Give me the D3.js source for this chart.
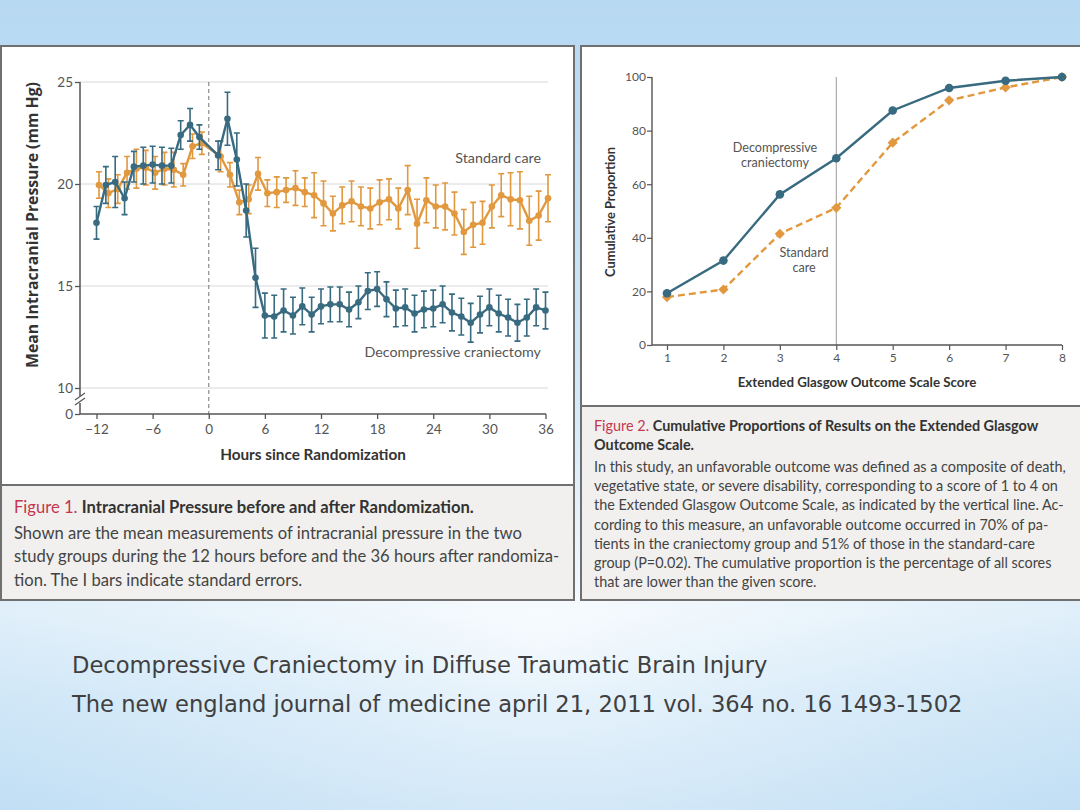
<!DOCTYPE html>
<html lang="en">
<head>
<meta charset="UTF-8">
<title>Decompressive Craniectomy in Diffuse Traumatic Brain Injury</title>
<style>
  body { margin: 0; background: #fff; }
  svg { display: block; }
</style>
</head>
<body>
<svg id="slide" width="1080" height="810"></svg>
<script src="https://d3js.org/d3.v7.min.js"></script>
<script>
// Figure 1: mean intracranial pressure (mm Hg) by hour, hour 0 has no measurement
const hours = [-12, -11, -10, -9, -8, -7, -6, -5, -4, -3, -2, -1,
  1, 2, 3, 4, 5, 6, 7, 8, 9, 10, 11, 12, 13, 14, 15, 16, 17, 18,
  19, 20, 21, 22, 23, 24, 25, 26, 27, 28, 29, 30, 31, 32, 33, 34, 35, 36];
const craniectomyMean = [18.1, 19.95, 20.1, 19.3, 20.85, 20.9, 20.95, 20.9, 20.9, 22.4, 22.9, 22.3,
  21.4, 23.2, 21.2, 18.7, 15.4, 13.55, 13.5, 13.8, 13.55, 14.0, 13.6, 14.0, 14.1, 14.1, 13.85, 14.2, 14.75, 14.85,
  14.35, 13.9, 13.95, 13.65, 13.85, 13.9, 14.1, 13.7, 13.5, 13.2, 13.6, 13.95, 13.65, 13.45, 13.2, 13.45, 13.95, 13.8];
const craniectomySE = [0.8, 0.9, 1.25, 0.8, 0.75, 0.9, 0.9, 0.9, 0.85, 0.7, 0.8, 0.6,
  0.7, 1.3, 1.3, 1.3, 1.45, 1.1, 1.05, 1.05, 0.9, 0.9, 0.85, 0.85, 0.85, 0.85, 0.85, 0.8, 0.9, 0.85,
  0.85, 0.9, 0.9, 0.9, 0.9, 0.9, 0.9, 0.9, 0.9, 0.95, 0.9, 0.9, 0.9, 0.9, 0.9, 0.9, 0.9, 0.9];
const standardMean = [19.95, 19.55, 19.75, 20.55, 20.75, 20.8, 20.55, 20.75, 20.7, 20.45, 21.85, 22.0,
  21.35, 20.45, 19.1, 19.25, 20.5, 19.55, 19.6, 19.7, 19.8, 19.6, 19.45, 19.05, 18.55, 18.95, 19.15, 18.9, 18.8, 19.1,
  19.25, 18.8, 19.7, 18.05, 19.2, 18.9, 18.9, 18.55, 17.65, 18.0, 18.1, 18.9, 19.45, 19.25, 19.2, 18.2, 18.45, 19.3];
const standardSE = [0.65, 0.7, 0.7, 0.8, 0.95, 0.85, 0.8, 0.8, 0.85, 0.55, 0.6, 0.55,
  0.75, 0.6, 0.6, 0.7, 0.8, 0.65, 0.75, 0.6, 0.85, 0.7, 1.1, 1.1, 0.85, 0.9, 1.0, 0.95, 1.0, 1.1,
  1.0, 1.0, 1.2, 1.2, 1.1, 1.05, 1.15, 1.05, 1.1, 1.1, 1.05, 1.05, 1.05, 1.3, 1.4, 1.2, 1.2, 1.15];
const hourTicks = [-12, -6, 0, 6, 12, 18, 24, 30, 36];
const icpTicks = [0, 10, 15, 20, 25];
const icpGrid = [10, 15, 20, 25];

// Figure 2: cumulative proportion by Extended Glasgow Outcome Scale score
const gosScores = [1, 2, 3, 4, 5, 6, 7, 8];
const gosCraniectomy = [19.3, 31.5, 56.2, 69.7, 87.5, 95.9, 98.6, 100];
const gosStandard = [17.9, 20.7, 41.5, 51.2, 75.5, 91.3, 96.1, 100];
const proportionTicks = [0, 20, 40, 60, 80, 100];

const BLUE = "#386a80";
const ORANGE = "#e1983e";
const AXIS = "#555";
const FONT = "Lato, 'Open Sans', sans-serif";

const svg = d3.select("#slide");
const defs = svg.append("defs");

// slide background
const bgV = defs.append("linearGradient").attr("id", "bgV")
  .attr("x1", 0).attr("y1", 0).attr("x2", 0).attr("y2", 1);
[[0, "#c0ddf4"], [0.5, "#d2e8f8"], [0.755, "#f3f9fd"], [0.86, "#d9ecf9"], [1, "#c4e0f5"]]
  .forEach(([o, c]) => bgV.append("stop").attr("offset", o).attr("stop-color", c));
svg.append("rect").attr("width", 1080).attr("height", 810).attr("fill", "url(#bgV)");
const bgR = defs.append("radialGradient").attr("id", "bgR")
  .attr("cx", 0.5).attr("cy", 0.8).attr("r", 0.7);
bgR.append("stop").attr("offset", 0).attr("stop-color", "#ffffff").attr("stop-opacity", 0.45);
bgR.append("stop").attr("offset", 1).attr("stop-color", "#a9d2f0").attr("stop-opacity", 0.35);
svg.append("rect").attr("width", 1080).attr("height", 810).attr("fill", "url(#bgR)");

// panels
function panel(x, y, w, h, capY) {
  svg.append("rect").attr("x", x).attr("y", y).attr("width", w).attr("height", h)
    .attr("fill", "#fff").attr("stroke", "#707070").attr("stroke-width", 2);
  svg.append("rect").attr("x", x).attr("y", capY).attr("width", w).attr("height", y + h - capY)
    .attr("fill", "#f1f0ee").attr("stroke", "#707070").attr("stroke-width", 2);
}
panel(1, 46, 573, 554, 485);
panel(581, 46, 502, 554, 406);

// ---------- Figure 1 ----------
const x1 = d3.scaleLinear().domain([-12, 36]).range([96.5, 545.5]);
const y1 = d3.scaleLinear().domain([0, 10, 25]).range([414, 388, 82]);
const f1 = svg.append("g");

f1.selectAll(".grid").data(icpGrid).enter().append("line")
  .attr("x1", 80).attr("x2", 548)
  .attr("y1", d => y1(d)).attr("y2", d => y1(d))
  .attr("stroke", "#d8d8d8").attr("stroke-width", 1);

f1.append("line").attr("x1", x1(0)).attr("x2", x1(0))
  .attr("y1", y1(25)).attr("y2", y1(0))
  .attr("stroke", "#8a8a8a").attr("stroke-width", 1.2).attr("stroke-dasharray", "4,3");

const xAxis1 = f1.append("g").attr("transform", "translate(0,414)")
  .call(d3.axisBottom(x1).tickValues(hourTicks).tickSize(5).tickSizeOuter(0).tickPadding(5));
const yAxis1 = f1.append("g").attr("transform", "translate(80,0)")
  .call(d3.axisLeft(y1).tickValues(icpTicks).tickSize(5).tickSizeOuter(0).tickPadding(2));
[xAxis1, yAxis1].forEach(a => {
  a.select(".domain").remove();
  a.selectAll("line").attr("stroke", AXIS).attr("stroke-width", 1.3);
  a.selectAll("text").attr("fill", "#555").attr("font-size", 13.5).attr("font-family", FONT);
});

// axis lines with break
f1.append("line").attr("x1", 80).attr("x2", 546).attr("y1", 414).attr("y2", 414)
  .attr("stroke", AXIS).attr("stroke-width", 1.5);
f1.append("line").attr("x1", 80).attr("x2", 80).attr("y1", y1(25)).attr("y2", 396)
  .attr("stroke", AXIS).attr("stroke-width", 1.5);
f1.append("line").attr("x1", 80).attr("x2", 80).attr("y1", 403).attr("y2", 414)
  .attr("stroke", AXIS).attr("stroke-width", 1.5);
[0, 5].forEach(dy => f1.append("line")
  .attr("x1", 75).attr("y1", 400 + dy).attr("x2", 85).attr("y2", 393 + dy)
  .attr("stroke", AXIS).attr("stroke-width", 1.2));

f1.append("text").attr("x", 313).attr("y", 460).attr("text-anchor", "middle")
  .attr("font-family", FONT).attr("font-weight", 700).attr("font-size", 15.3).attr("fill", "#333")
  .text("Hours since Randomization");
f1.append("text").attr("transform", "translate(38,225) rotate(-90)").attr("text-anchor", "middle")
  .attr("font-family", "'Open Sans', Lato, sans-serif").attr("font-weight", 700).attr("font-size", 15.8)
  .attr("fill", "#333")
  .text("Mean Intracranial Pressure (mm Hg)");

function icpSeries(means, ses, color, off) {
  const pts = hours.map((h, i) => ({ h: h, m: means[i], se: ses[i] }));
  const g = f1.append("g");
  const px = d => x1(d.h) + off;
  g.selectAll(".eb").data(pts).enter().append("path")
    .attr("d", d => {
      const t = y1(d.m + d.se), b = y1(d.m - d.se), x = px(d);
      return `M${x},${t}V${b}M${x - 3},${t}H${x + 3}M${x - 3},${b}H${x + 3}`;
    })
    .attr("fill", "none").attr("stroke", color).attr("stroke-width", 1.6);
  g.append("path").datum(pts)
    .attr("d", d3.line().x(px).y(d => y1(d.m)))
    .attr("fill", "none").attr("stroke", color).attr("stroke-width", 2.4);
  g.selectAll(".pt").data(pts).enter().append("circle")
    .attr("cx", px).attr("cy", d => y1(d.m)).attr("r", 3.3).attr("fill", color);
}
icpSeries(standardMean, standardSE, ORANGE, 2.5);
icpSeries(craniectomyMean, craniectomySE, BLUE, 0);

f1.append("text").attr("x", 541).attr("y", 163).attr("text-anchor", "end")
  .attr("font-family", FONT).attr("font-size", 14.3).attr("fill", "#555").text("Standard care");
f1.append("text").attr("x", 541).attr("y", 357).attr("text-anchor", "end")
  .attr("font-family", FONT).attr("font-size", 14.3).attr("fill", "#555").text("Decompressive craniectomy");

// ---------- Figure 2 ----------
const x2 = d3.scaleLinear().domain([1, 8]).range([667, 1062]);
const y2 = d3.scaleLinear().domain([0, 100]).range([345, 77]);
const f2 = svg.append("g");

f2.append("line").attr("x1", x2(4)).attr("x2", x2(4)).attr("y1", y2(100)).attr("y2", y2(0))
  .attr("stroke", "#9a9a9a").attr("stroke-width", 1);

const xAxis2 = f2.append("g").attr("transform", "translate(0,345)")
  .call(d3.axisBottom(x2).tickValues(gosScores).tickFormat(d3.format("d"))
    .tickSize(5).tickSizeOuter(0).tickPadding(3));
const yAxis2 = f2.append("g").attr("transform", "translate(652,0)")
  .call(d3.axisLeft(y2).tickValues(proportionTicks).tickSize(5).tickSizeOuter(0).tickPadding(1));
[xAxis2, yAxis2].forEach(a => {
  a.select(".domain").remove();
  a.selectAll("line").attr("stroke", AXIS).attr("stroke-width", 1.2);
  a.selectAll("text").attr("fill", "#555").attr("font-size", 12).attr("font-family", FONT);
});
f2.append("line").attr("x1", 652).attr("x2", 1062).attr("y1", 345).attr("y2", 345)
  .attr("stroke", AXIS).attr("stroke-width", 1.4);
f2.append("line").attr("x1", 652).attr("x2", 652).attr("y1", y2(100)).attr("y2", 345)
  .attr("stroke", AXIS).attr("stroke-width", 1.4);

f2.append("text").attr("x", 857).attr("y", 387).attr("text-anchor", "middle")
  .attr("font-family", FONT).attr("font-weight", 700).attr("font-size", 13.3).attr("fill", "#333")
  .text("Extended Glasgow Outcome Scale Score");
f2.append("text").attr("transform", "translate(615,212) rotate(-90)").attr("text-anchor", "middle")
  .attr("font-family", FONT).attr("font-weight", 700).attr("font-size", 12.8).attr("fill", "#333")
  .text("Cumulative Proportion");

const stdPts = gosScores.map((s, i) => ({ s: s, v: gosStandard[i] }));
const dcPts = gosScores.map((s, i) => ({ s: s, v: gosCraniectomy[i] }));
const gosLine = d3.line().x(d => x2(d.s)).y(d => y2(d.v));

f2.append("path").datum(stdPts).attr("d", gosLine)
  .attr("fill", "none").attr("stroke", ORANGE).attr("stroke-width", 2.4).attr("stroke-dasharray", "7,4");
f2.selectAll(".dia").data(stdPts).enter().append("path")
  .attr("d", d3.symbol(d3.symbolSquare, 52))
  .attr("transform", d => `translate(${x2(d.s)},${y2(d.v)}) rotate(45)`)
  .attr("fill", ORANGE);
f2.append("path").datum(dcPts).attr("d", gosLine)
  .attr("fill", "none").attr("stroke", BLUE).attr("stroke-width", 2.4);
f2.selectAll(".dot").data(dcPts).enter().append("circle")
  .attr("cx", d => x2(d.s)).attr("cy", d => y2(d.v)).attr("r", 4.3).attr("fill", BLUE);

function label2(lines, x, y) {
  const t = f2.append("text").attr("text-anchor", "middle").attr("font-family", FONT)
    .attr("font-size", 12.6).attr("fill", "#555");
  lines.forEach((l, i) => t.append("tspan").attr("x", x).attr("y", y + i * 15).text(l));
}
label2(["Decompressive", "craniectomy"], 775, 152);
label2(["Standard", "care"], 804, 257);

// ---------- captions ----------
function caption(x, y0, size, lh, title, body) {
  const g = svg.append("g").attr("font-family", FONT).attr("font-size", size);
  title.forEach((l, i) => {
    const t = g.append("text").attr("x", x).attr("y", y0 + i * lh).attr("font-weight", 700).attr("fill", "#333");
    if (i === 0) {
      t.append("tspan").attr("fill", "#c4374f").attr("font-weight", 400).text(l[0]);
      t.append("tspan").text(l[1]);
    } else t.text(l);
  });
  body.forEach((l, i) => g.append("text").attr("x", x).attr("y", y0 + (title.length + i) * lh + 2)
    .attr("fill", "#444").text(l));
}
caption(14, 513, 16.6, 23.5,
  [["Figure 1. ", "Intracranial Pressure before and after Randomization."]],
  ["Shown are the mean measurements of intracranial pressure in the two",
   "study groups during the 12 hours before and the 36 hours after randomiza-",
   "tion. The I bars indicate standard errors."]);
caption(594, 431, 14.4, 19.3,
  [["Figure 2. ", "Cumulative Proportions of Results on the Extended Glasgow"], "Outcome Scale."],
  ["In this study, an unfavorable outcome was defined as a composite of death,",
   "vegetative state, or severe disability, corresponding to a score of 1 to 4 on",
   "the Extended Glasgow Outcome Scale, as indicated by the vertical line. Ac-",
   "cording to this measure, an unfavorable outcome occurred in 70% of pa-",
   "tients in the craniectomy group and 51% of those in the standard-care",
   "group (P=0.02). The cumulative proportion is the percentage of all scores",
   "that are lower than the given score."]);

// slide footer
const foot = svg.append("g").attr("font-family", "'DejaVu Sans', sans-serif")
  .attr("font-size", 22.6).attr("fill", "#404040");
foot.append("text").attr("x", 72).attr("y", 673)
  .text("Decompressive Craniectomy in Diffuse Traumatic Brain Injury");
foot.append("text").attr("x", 72).attr("y", 712)
  .text("The new england journal of medicine april 21, 2011 vol. 364 no. 16 1493-1502");
</script>
</body>
</html>
